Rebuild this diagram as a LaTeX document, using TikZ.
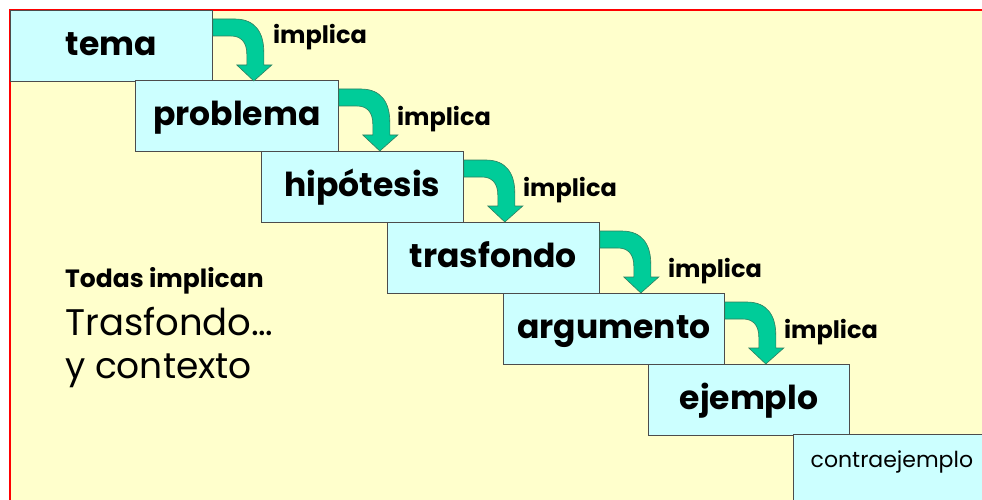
\documentclass[tikz,border=0pt]{standalone}
\usepackage{fontspec}
\setmainfont{Poppins}
\usepackage{tikz}
\usetikzlibrary{positioning, calc}

\definecolor{cream}{HTML}{FFFFCC}
\definecolor{paleblue}{HTML}{CCFFFF}
\definecolor{turq}{HTML}{00CC99}
\definecolor{turqdark}{HTML}{2F7F5F}

% bent block arrow from the top right corner of a step down to the next one
\newcommand{\bentarrow}[1]{%
  \begin{scope}[shift={(#1.north east)}]
    \draw[turn] (0,-9) -- (22,-9) .. controls (42,-9) and (51,-22) .. (51,-42) -- (51,-55) -- (59,-55) -- (41,-71) -- (24,-55) -- (34,-55) -- (34,-44) .. controls (34,-32) and (28,-26) .. (18,-26) -- (0,-26) -- cycle;
  \end{scope}}

\begin{document}
\begin{tikzpicture}[
    x=1pt, y=1pt,
    box/.style={draw=black!70, line width=0.8pt, fill=paleblue, rectangle, anchor=north west, minimum height=71pt, inner sep=0pt, text height=26pt, text depth=6pt, font=\bfseries\fontsize{33}{36}\selectfont},
    turn/.style={draw=turqdark, line width=0.6pt, fill=turq},
    implies/.style={anchor=base, inner sep=0pt, font=\bfseries\fontsize{24}{28}\selectfont},
    note/.style={anchor=base west, inner sep=0pt},
]
\useasboundingbox (0,0) rectangle (982,-500);

% Background
\fill[cream] (10,-10) rectangle (982,-500);
\draw[red, line width=1.2pt] (10,-500) -- (10,-10) -- (982,-10);

% Steps
\node[box, minimum width=202pt] (tema) at (10,-10) {tema};
\node[box, minimum width=203pt] (problema) at (135,-80) {problema};
\node[box, minimum width=202pt] (hipotesis) at (261,-151) {hipótesis};
\node[box, minimum width=212pt] (trasfondo) at (387,-222) {trasfondo};
\node[box, minimum width=221pt] (argumento) at (503,-293) {argumento};
\node[box, minimum width=201pt] (ejemplo) at (648,-364) {ejemplo};
\node[box, minimum width=197pt, minimum height=70pt, text height=6pt, text depth=10pt, font=\fontsize{22}{26}\selectfont] (contra) at (793,-434) {contraejemplo};

% Arrows
\bentarrow{tema}
\bentarrow{problema}
\bentarrow{hipotesis}
\bentarrow{trasfondo}
\bentarrow{argumento}

% Labels
\node[implies] (imp1) at (320,-44) {implica};
\node[implies] (imp2) at (444,-126) {implica};
\node[implies] (imp3) at (570,-196) {implica};
\node[implies] (imp4) at (715,-277) {implica};
\node[implies] (imp5) at (831,-338) {implica};

% Note
\node[note, font=\bfseries\fontsize{25}{28}\selectfont] (todas) at (65,-287) {Todas implican};
\node[note, font=\fontsize{37}{40}\selectfont] (trasf) at (65,-335) {Trasfondo\ldots};
\node[note, font=\fontsize{36}{38}\selectfont] (contexto) at (65,-378) {y contexto};

\end{tikzpicture}
\end{document}
